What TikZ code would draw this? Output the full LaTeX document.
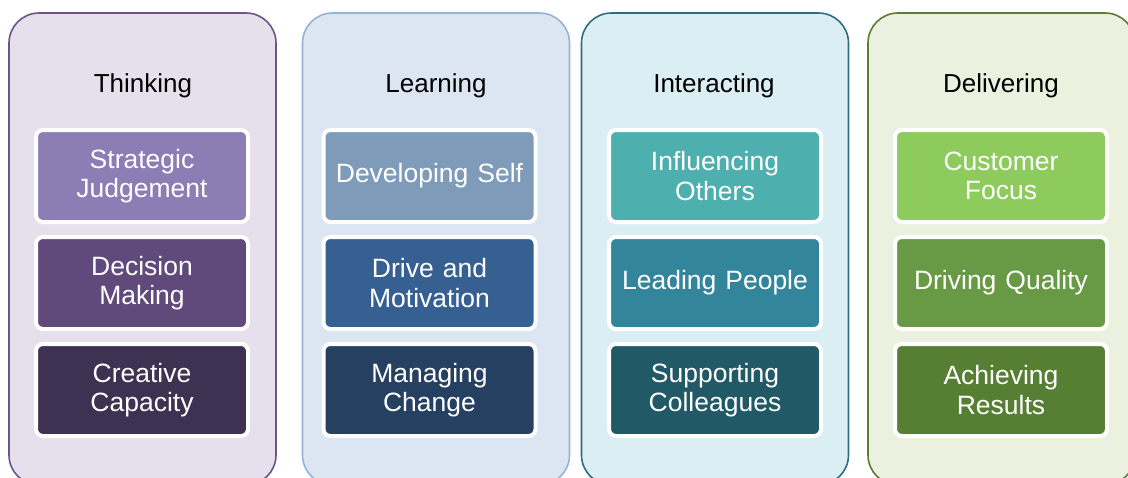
\documentclass[tikz,border=0pt]{standalone}
\usepackage{fontspec}
\setmainfont{Liberation Sans}
% font for the competency boxes, with slightly wider word spaces
\newcommand\compfont{\fontsize{26.5}{29.5}\selectfont\spaceskip=9pt plus 2pt minus 2pt\relax}
\begin{document}
\begin{tikzpicture}[x=1pt,y=-1pt,
  panel/.style={rectangle, rounded corners=30pt, line width=1.6pt,
    minimum width=267pt, minimum height=472pt, inner sep=0pt},
  heading/.style={font=\fontsize{26}{30}\selectfont, text=black, inner sep=0pt},
  comp/.style={rectangle, rounded corners=7pt, draw=white, line width=4pt,
    minimum width=212pt, minimum height=92pt, inner sep=0pt,
    align=center, text=white, font=\compfont}]
% colours
\definecolor{thinkPanel}{HTML}{E6E0EC}\definecolor{thinkLine}{HTML}{6A5587}
\definecolor{thinkA}{HTML}{8C7DB5}\definecolor{thinkB}{HTML}{604A7B}\definecolor{thinkC}{HTML}{3F3151}
\definecolor{learnPanel}{HTML}{DCE6F2}\definecolor{learnLine}{HTML}{95B3D7}
\definecolor{learnA}{HTML}{7F9BBA}\definecolor{learnB}{HTML}{376092}\definecolor{learnC}{HTML}{254061}
\definecolor{interPanel}{HTML}{DBEEF4}\definecolor{interLine}{HTML}{2E6E7E}
\definecolor{interA}{HTML}{4DAFAE}\definecolor{interB}{HTML}{32859B}\definecolor{interC}{HTML}{215967}
\definecolor{delivPanel}{HTML}{EBF1DE}\definecolor{delivLine}{HTML}{5E7A35}
\definecolor{delivA}{HTML}{8CCB5C}\definecolor{delivB}{HTML}{689A45}\definecolor{delivC}{HTML}{567F34}

\useasboundingbox (0,0) rectangle (1128,477);
\clip (0,0) rectangle (1128,477);
\fill[white] (0,0) rectangle (1128,477);

% four category panels
\node[panel, draw=thinkLine, fill=thinkPanel] (pThink) at (142.5,249) {};
\node[panel, draw=learnLine, fill=learnPanel] (pLearn) at (436,249) {};
\node[panel, draw=interLine, fill=interPanel] (pInter) at (715,249) {};
\node[panel, draw=delivLine, fill=delivPanel] (pDeliv) at (1001.5,249) {};

% headings
\node[heading] (hThink) at (143,86) {Thinking};
\node[heading] (hLearn) at (436,86) {Learning};
\node[heading] (hInter) at (714,86) {Interacting};
\node[heading] (hDeliv) at (1001,86) {Delivering};

% Thinking competencies
\node[comp, fill=thinkA] (t1) at (142,176) {Strategic\\Judgement};
\node[comp, fill=thinkB] (t2) at (142,283) {Decision\\Making};
\node[comp, fill=thinkC] (t3) at (142,390) {Creative\\Capacity};

% Learning competencies
\node[comp, fill=learnA] (l1) at (429.5,176) {Developing Self};
\node[comp, fill=learnB] (l2) at (429.5,283) {Drive and\\Motivation};
\node[comp, fill=learnC] (l3) at (429.5,390) {Managing\\Change};

% Interacting competencies
\node[comp, fill=interA] (i1) at (715,176) {Influencing\\Others};
\node[comp, fill=interB] (i2) at (715,283) {Leading People};
\node[comp, fill=interC] (i3) at (715,390) {Supporting\\Colleagues};

% Delivering competencies
\node[comp, fill=delivA] (d1) at (1001,176) {Customer\\Focus};
\node[comp, fill=delivB] (d2) at (1001,283) {Driving Quality};
\node[comp, fill=delivC] (d3) at (1001,390) {Achieving\\Results};
\end{tikzpicture}
\end{document}
